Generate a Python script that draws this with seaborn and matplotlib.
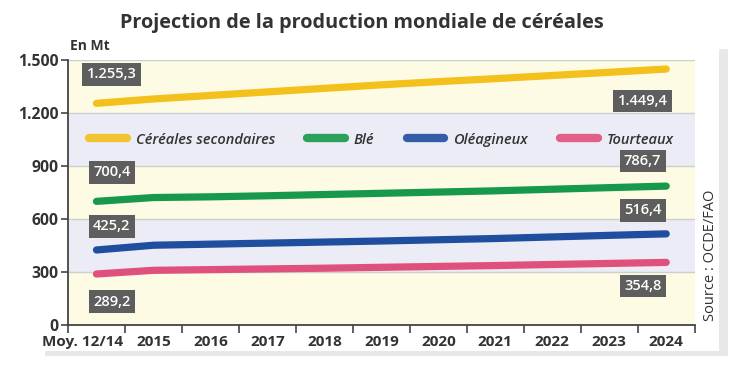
import pandas as pd
import numpy as np
import matplotlib.pyplot as plt
import seaborn as sns
from matplotlib.patches import Rectangle

# Data (Mt)
years = ["Moy. 12/14", "2015", "2016", "2017", "2018", "2019",
         "2020", "2021", "2022", "2023", "2024"]
cereales = [1255.3, 1280, 1300, 1320, 1340, 1360, 1378, 1395, 1413, 1431, 1449.4]
ble = [700.4, 722, 726, 732, 739, 746, 753, 760, 769, 778, 786.7]
oleagineux = [425.2, 452, 458, 464, 470, 476, 483, 490, 499, 508, 516.4]
tourteaux = [289.2, 310, 314, 318, 322, 327, 332, 337, 343, 349, 354.8]
series_names = ["Céréales secondaires", "Blé", "Oléagineux", "Tourteaux"]
colors = ["#f4c01c", "#17994b", "#1f4e9e", "#e0507c"]
first_labels = ["1.255,3", "700,4", "425,2", "289,2"]
last_labels = ["1.449,4", "786,7", "516,4", "354,8"]

df = pd.DataFrame({"pos": list(range(len(years))) * 4,
                   "valeur": cereales + ble + oleagineux + tourteaux,
                   "serie": np.repeat(series_names, len(years))})

plt.rcParams['font.family'] = ['Open Sans', 'DejaVu Sans']
fig = plt.figure(figsize=(7.47, 3.78), dpi=100)

# card shadow (right and bottom)
fig.patches.append(Rectangle((0.962, 0.07), 0.012, 0.80, transform=fig.transFigure,
                             color="#e8e8e8", lw=0, zorder=0))
fig.patches.append(Rectangle((0.06, 0.058), 0.914, 0.014, transform=fig.transFigure,
                             color="#e8e8e8", lw=0, zorder=0))

ax = fig.add_axes([0.091, 0.140, 0.839, 0.701])

# alternating bands
band_cols = ["#fdfbe4", "#ebecf5", "#fdfbe4", "#ebecf5", "#fdfbe4"]
for i, c in enumerate(band_cols):
    ax.axhspan(i * 300, (i + 1) * 300, color=c, zorder=0, lw=0)
for y in [300, 600, 900, 1200, 1500]:
    ax.axhline(y, color="#cfcfcf", lw=1, zorder=1)

sns.lineplot(data=df, x="pos", y="valeur", hue="serie", hue_order=series_names,
             palette=colors, lw=5.2, ax=ax, legend=False, zorder=3,
             solid_capstyle="round")

ax.set_xlim(-0.5, 10.5)
ax.set_ylim(0, 1500)
ax.set_yticks([0, 300, 600, 900, 1200, 1500])
ax.set_yticklabels(["0", "300", "600", "900", "1.200", "1.500"],
                   fontsize=11.3, fontweight="bold", color="#333333")
ax.set_xticks(np.arange(-0.5, 11, 1))
ax.set_xticklabels([])
label_pos = [-0.24] + list(range(1, len(years)))
ax.set_xticks(label_pos, minor=True)
ax.set_xticklabels(years, minor=True, fontsize=11, fontweight="bold", color="#333333")
ax.tick_params(axis="x", which="minor", length=0, pad=7)
ax.tick_params(axis="x", which="major", length=6, width=1.2, color="#444444", direction="out")
ax.tick_params(axis="y", length=5, width=1.2, color="#444444", pad=2)
ax.set_xlabel("")
ax.set_ylabel("")
for s in ["top", "right"]:
    ax.spines[s].set_visible(False)
for s in ["left", "bottom"]:
    ax.spines[s].set_color("#444444")
    ax.spines[s].set_linewidth(1.3)

# value boxes
box = dict(boxstyle="square,pad=0.3", fc="#5e5e5e", ec="none")
first_off = [21, 21, 17, -20]
last_off = [-23, 18, 17, -17]
all_vals = [cereales, ble, oleagineux, tourteaux]
for vals, t1, t2, o1, o2 in zip(all_vals, first_labels, last_labels, first_off, last_off):
    ax.annotate(t1, (0, vals[0]), xytext=(11, o1), textcoords="offset points",
                ha="center", va="center", color="white", fontsize=10.5,
                fontweight="semibold", bbox=box, zorder=5)
    ax.annotate(t2, (10, vals[-1]), xytext=(-17, o2), textcoords="offset points",
                ha="center", va="center", color="white", fontsize=10.5,
                fontweight="semibold", bbox=box, zorder=5)

# legend drawn inside the 900-1200 band
handles = [plt.Line2D([], [], color=c, lw=6, solid_capstyle="round", alpha=0.9) for c in colors]
ax.legend(handles, series_names, loc="center", bbox_to_anchor=(0.5, 0.70), ncol=4,
          frameon=False, prop={"style": "italic", "weight": "semibold", "size": 10.5},
          handlelength=2.6, columnspacing=2.2, handletextpad=0.6, labelcolor="#333333")

fig.text(0.484, 0.94, "Projection de la production mondiale de céréales",
         ha="center", va="center", fontsize=14.3, fontweight="bold", color="#333333")
fig.text(0.094, 0.877, "En Mt", ha="left", va="center", fontsize=10,
         fontweight="bold", color="#333333")
fig.text(0.951, 0.325, "Source : OCDE/FAO", rotation=90, ha="center", va="center",
         fontsize=10.5, color="#333333")

fig.savefig("out.png", dpi=100)
